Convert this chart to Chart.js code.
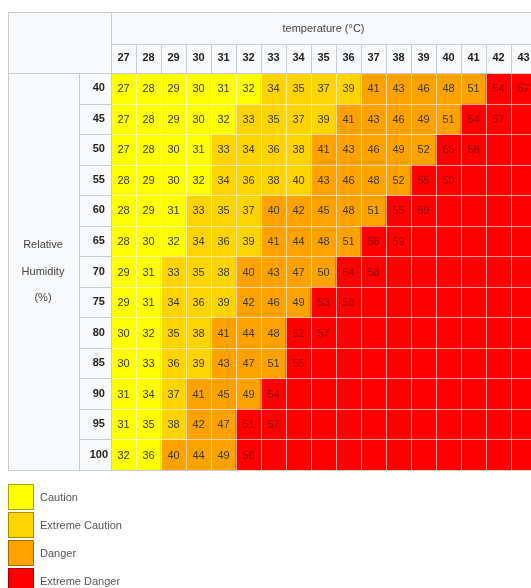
<!DOCTYPE html>
<html>
<head>
<meta charset="utf-8">
<script src="https://cdn.jsdelivr.net/npm/chart.js@4"></script>
<style>
  html, body { margin: 0; padding: 0; background: #fff; overflow: hidden; }
  #wrap { position: relative; width: 545px; height: 588px; }
  #legend { position: absolute; left: 8px; top: 484px; font: 11px "Liberation Sans", Arial, sans-serif; color: #555; }
  .item { display: flex; align-items: center; height: 26px; margin-bottom: 2px; }
  .box { width: 26px; height: 26px; box-sizing: border-box; border: 1px solid rgba(0,0,0,0.35); margin-right: 6px; }
</style>
</head>
<body>
<div id="wrap">
  <canvas id="heat" width="545" height="588"></canvas>
  <div id="legend"></div>
</div>
<script>
// heat index table (°C), rows = relative humidity, columns = air temperature
const temperatures = [27, 28, 29, 30, 31, 32, 33, 34, 35, 36, 37, 38, 39, 40, 41, 42, 43];
const humidity = [40, 45, 50, 55, 60, 65, 70, 75, 80, 85, 90, 95, 100];

const heat40 = [27, 28, 29, 30, 31, 32, 34, 35, 37, 39, 41, 43, 46, 48, 51, 54, 57];
const heat45 = [27, 28, 29, 30, 32, 33, 35, 37, 39, 41, 43, 46, 49, 51, 54, 57];
const heat50 = [27, 28, 30, 31, 33, 34, 36, 38, 41, 43, 46, 49, 52, 55, 58];
const heat55 = [28, 29, 30, 32, 34, 36, 38, 40, 43, 46, 48, 52, 55, 59];
const heat60 = [28, 29, 31, 33, 35, 37, 40, 42, 45, 48, 51, 55, 59];
const heat65 = [28, 30, 32, 34, 36, 39, 41, 44, 48, 51, 55, 59];
const heat70 = [29, 31, 33, 35, 38, 40, 43, 47, 50, 54, 58];
const heat75 = [29, 31, 34, 36, 39, 42, 46, 49, 53, 58];
const heat80 = [30, 32, 35, 38, 41, 44, 48, 52, 57];
const heat85 = [30, 33, 36, 39, 43, 47, 51, 55];
const heat90 = [31, 34, 37, 41, 45, 49, 54];
const heat95 = [31, 35, 38, 42, 47, 51, 57];
const heat100 = [32, 36, 40, 44, 49, 56];
const heatRows = [heat40, heat45, heat50, heat55, heat60, heat65, heat70, heat75, heat80, heat85, heat90, heat95, heat100];

// risk class of each cell (1 caution .. 4 extreme danger), as coloured in the table
const riskLevels = [
  '11111122223333344',
  '11111222233333444',
  '11112222333334444',
  '11112222333344444',
  '11122233333444444',
  '11122233334444444',
  '11222333344444444',
  '11222333444444444',
  '11223334444444444',
  '11223334444444444',
  '11233344444444444',
  '11233444444444444',
  '11333444444444444'
];
const riskNames = ['Caution', 'Extreme Caution', 'Danger', 'Extreme Danger'];
const riskColors = ['#ffff00', '#ffd400', '#ffa200', '#ff0000'];

const FONT = '"Liberation Sans", Arial, sans-serif';
const LINE = '#c8ccd1';
const HEAD_BG = '#f8f9fa';

const datasets = humidity.map((h, r) => ({
  label: h + '%',
  data: temperatures.map(() => [r - 0.5, r + 0.5]),
  backgroundColor: temperatures.map((t, i) => riskColors[Number(riskLevels[r][i]) - 1]),
  borderWidth: 0,
  grouped: false,
  barPercentage: 1,
  categoryPercentage: 1
}));

function hline(ctx, x1, x2, y) {
  ctx.beginPath();
  ctx.moveTo(x1, Math.round(y) + 0.5);
  ctx.lineTo(x2, Math.round(y) + 0.5);
  ctx.stroke();
}
function vline(ctx, x, y1, y2) {
  ctx.beginPath();
  ctx.moveTo(Math.round(x) + 0.5, y1);
  ctx.lineTo(Math.round(x) + 0.5, y2);
  ctx.stroke();
}

const tablePlugin = {
  id: 'tableFrame',
  beforeDraw(chart) {
    const ctx = chart.ctx;
    const a = chart.chartArea;
    ctx.save();
    ctx.fillStyle = '#fff';
    ctx.fillRect(0, 0, chart.width, chart.height);
    ctx.fillStyle = HEAD_BG;
    ctx.fillRect(8, 12, chart.width - 8, a.top - 12);
    ctx.fillRect(8, a.top, a.left - 8, a.bottom - a.top);

    ctx.fillStyle = '#444';
    ctx.font = '11px ' + FONT;
    ctx.textAlign = 'center';
    ctx.textBaseline = 'middle';
    ctx.fillText('temperature (°C)', (a.left + a.right) / 2, 29);
    const midY = (a.top + a.bottom) / 2;
    ctx.fillText('Relative', 43, midY - 27);
    ctx.fillText('Humidity', 43, midY);
    ctx.fillText('(%)', 43, midY + 26);
    ctx.restore();
  },
  afterDatasetsDraw(chart) {
    const ctx = chart.ctx;
    const a = chart.chartArea;
    const xs = chart.scales.x;
    const ys = chart.scales.y;
    const colW = xs.getPixelForValue(1) - xs.getPixelForValue(0);
    ctx.save();

    // white cell grid
    ctx.strokeStyle = 'rgba(255,255,255,0.6)';
    ctx.lineWidth = 1;
    for (let i = 1; i < temperatures.length; i++) {
      vline(ctx, xs.getPixelForValue(i) - colW / 2, a.top, a.bottom);
    }
    for (let r = 1; r < humidity.length; r++) {
      hline(ctx, a.left, a.right, ys.getPixelForValue(r - 0.5));
    }

    // numbers in the cells
    ctx.font = '11px ' + FONT;
    ctx.textAlign = 'center';
    ctx.textBaseline = 'middle';
    chart.data.datasets.forEach((ds, r) => {
      const meta = chart.getDatasetMeta(r);
      heatRows[r].forEach((v, i) => {
        const el = meta.data[i];
        ctx.fillStyle = riskLevels[r][i] === '4' ? 'rgba(110,0,0,0.75)' : '#3a3a2a';
        ctx.fillText(String(v), el.x, (el.y + el.base) / 2 + 1);
      });
    });

    // table borders
    ctx.strokeStyle = LINE;
    hline(ctx, 8, chart.width, 12);
    hline(ctx, a.left, chart.width, 44);
    hline(ctx, 8, chart.width, a.top);
    hline(ctx, 8, chart.width, a.bottom);
    vline(ctx, 8, 12, a.bottom);
    vline(ctx, a.left, 12, a.bottom);
    vline(ctx, 79, a.top, a.bottom);
    for (let i = 1; i < temperatures.length; i++) {
      vline(ctx, xs.getPixelForValue(i) - colW / 2, 44, a.top);
    }
    for (let r = 1; r < humidity.length; r++) {
      hline(ctx, 79, a.left, ys.getPixelForValue(r - 0.5));
    }
    ctx.restore();
  }
};

const config = {
  type: 'bar',
  data: { labels: temperatures.map(String), datasets: datasets },
  options: {
    responsive: false,
    animation: false,
    layout: { padding: { left: 79, top: 44, right: 9, bottom: 118 } },
    plugins: { legend: { display: false }, tooltip: { enabled: false } },
    scales: {
      x: {
        type: 'category',
        position: 'top',
        grid: { display: false, drawTicks: false },
        border: { display: false },
        ticks: { autoSkip: false, maxRotation: 0, padding: 8, color: '#222', font: { family: FONT, size: 11, weight: 'bold' } },
        afterFit: (s) => { s.height = 29; }
      },
      y: {
        type: 'linear',
        reverse: true,
        min: -0.5,
        max: 12.5,
        grid: { display: false, drawTicks: false },
        border: { display: false },
        afterBuildTicks: (s) => { s.ticks = humidity.map((h, i) => ({ value: i })); },
        ticks: {
          crossAlign: 'center',
          color: '#222',
          font: { family: FONT, size: 11, weight: 'bold' },
          callback: (v) => humidity[v]
        },
        afterFit: (s) => { s.width = 32; }
      }
    }
  },
  plugins: [tablePlugin]
};

const heatChart = new Chart(document.getElementById('heat'), config);

// legend under the table
const legendEl = document.getElementById('legend');
riskNames.forEach((name, i) => {
  const item = document.createElement('div');
  item.className = 'item';
  const box = document.createElement('div');
  box.className = 'box';
  box.style.background = riskColors[i];
  const txt = document.createElement('span');
  txt.textContent = name;
  item.appendChild(box);
  item.appendChild(txt);
  legendEl.appendChild(item);
});
</script>
</body>
</html>
